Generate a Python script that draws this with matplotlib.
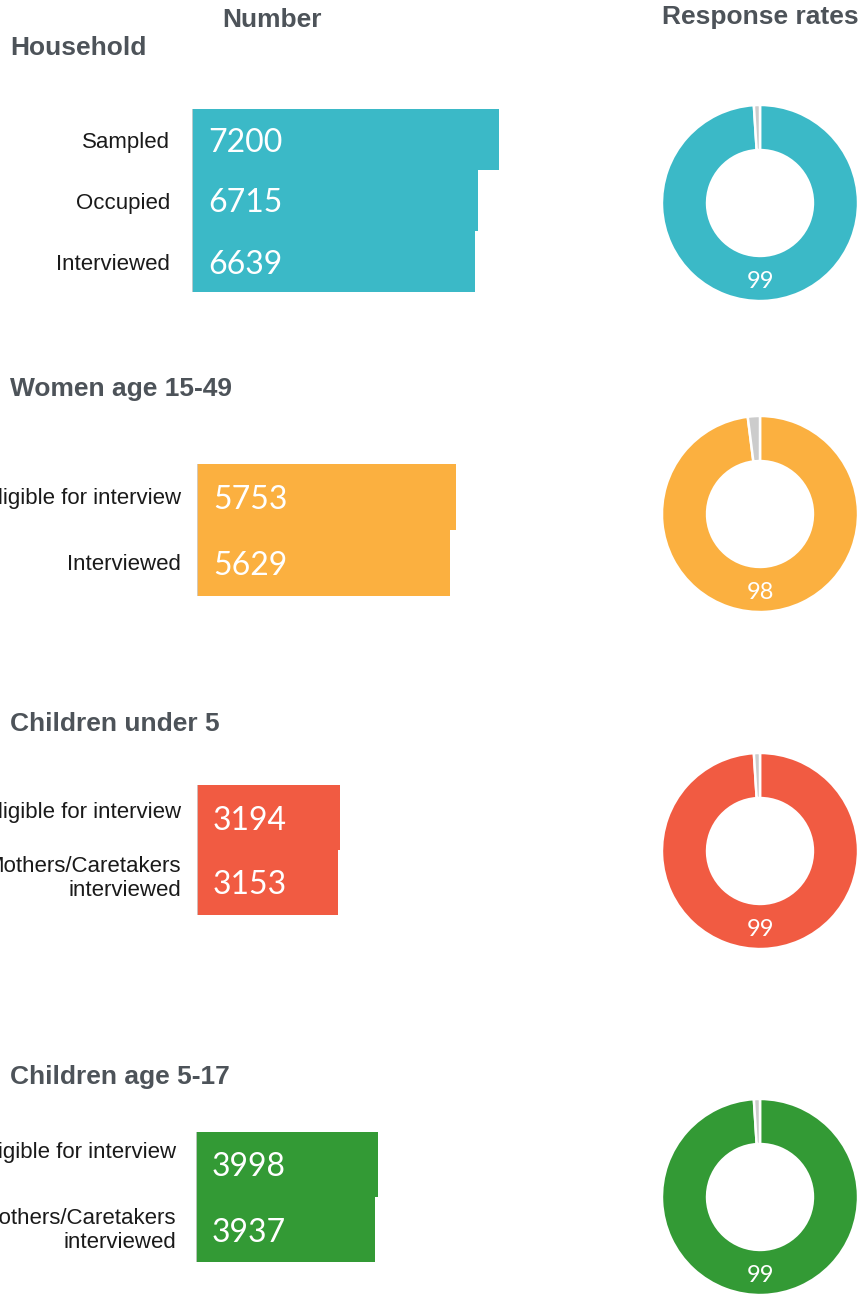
import matplotlib
matplotlib.use("Agg")
import matplotlib.pyplot as plt
import matplotlib.transforms as mtransforms

# ---------------- data ----------------
group_titles = ["Household", "Women age 15-49", "Children under 5", "Children age 5-17"]
household_labels = ["Sampled", "Occupied", "Interviewed"]
household_values = [7200, 6715, 6639]
women_labels = ["Eligible for interview", "Interviewed"]
women_values = [5753, 5629]
child5_labels = ["Eligible for interview", "Mothers/Caretakers\ninterviewed"]
child5_values = [3194, 3153]
child517_labels = ["Eligible for interview", "Mothers/Caretakers\ninterviewed"]
child517_values = [3998, 3937]
response_rates = [99, 98, 99, 99]
colors = ["#3BB9C7", "#FBB040", "#F15B42", "#339A35"]

# ---------------- layout ----------------
W, H = 859, 1308
DPI = 100
fig = plt.figure(figsize=(W / DPI, H / DPI), dpi=DPI)
fig.patch.set_facecolor("white")

TITLE_COLOR = "#4D5359"
LABEL_COLOR = "#1A1A1A"


def box(l, t, w, h):
    return [l / W, 1 - (t + h) / H, w / W, h / H]


def fy(y):
    return 1 - y / H


groups = [
    dict(labels=household_labels, values=household_values, left=192, top=109, bh=61,
         scale=307 / 7200, lab_x=170, lab_off=[-3, -3, -3], title_y=48, donut_cy=203),
    dict(labels=women_labels, values=women_values, left=197, top=464, bh=66,
         scale=259 / 5753, lab_x=181, lab_off=[-2, -1], title_y=389, donut_cy=514),
    dict(labels=child5_labels, values=child5_values, left=197, top=785, bh=65,
         scale=143 / 3194, lab_x=181, lab_off=[5, 4], title_y=724, donut_cy=851),
    dict(labels=child517_labels, values=child517_values, left=196, top=1132, bh=65,
         scale=182 / 3998, lab_x=176, lab_off=[12, -1], title_y=1077, donut_cy=1197),
]

# column headers
fig.text(272 / W, fy(20), "Number", ha="center", va="center", fontsize=19,
         fontweight="bold", family="Liberation Sans", color=TITLE_COLOR)
fig.text(760 / W, fy(17), "Response rates", ha="center", va="center", fontsize=19,
         fontweight="bold", family="Liberation Sans", color=TITLE_COLOR)

for g, title, rate, col in zip(groups, group_titles, response_rates, colors):
    fig.text(10 / W, fy(g["title_y"]), title, ha="left", va="center", fontsize=19,
             fontweight="bold", family="Liberation Sans", color=TITLE_COLOR)

    vals = g["values"]
    n = len(vals)
    vmax = max(vals)
    ax = fig.add_axes(box(g["left"], g["top"], vmax * g["scale"], n * g["bh"]))
    ypos = list(range(n))
    ax.barh(ypos, vals, height=1.0, color=col, edgecolor="none")
    ax.set_xlim(0, vmax)
    ax.set_ylim(n - 0.5, -0.5)
    ax.axis("off")
    ax.axvline(0, color="#CFCFCF", lw=1.2, zorder=3)

    for i, v in enumerate(vals):
        ax.text(0, i, str(v),
                transform=ax.transData + mtransforms.ScaledTranslation(16 / DPI, -3 / DPI, fig.dpi_scale_trans),
                ha="left", va="center", color="white", fontsize=23, family="Lato",
                fontweight="normal")
        # category label
        tr = mtransforms.blended_transform_factory(fig.transFigure, ax.transData)
        tr = tr + mtransforms.ScaledTranslation(0, g["lab_off"][i] / DPI, fig.dpi_scale_trans)
        ax.text(g["lab_x"] / W, i, g["labels"][i], transform=tr, ha="right", va="center",
                multialignment="right", fontsize=16.0, family="Liberation Sans",
                color=LABEL_COLOR, linespacing=1.2, clip_on=False)

    # donut
    dax = fig.add_axes(box(660, g["donut_cy"] - 100, 200, 200))
    dax.pie([rate, 100 - rate], colors=[col, "#CCCCCC"], startangle=90, counterclock=False,
            radius=1.0, wedgeprops=dict(width=0.46, edgecolor="white", linewidth=1.8))
    dax.set_xlim(-1.02, 1.02)
    dax.set_ylim(-1.02, 1.02)
    dax.set_aspect("equal")
    dax.axis("off")
    dax.text(0, -0.80, str(rate), ha="center", va="center", color="white", fontsize=17,
             family="Lato", fontweight="normal")

fig.savefig("out.png", dpi=DPI, facecolor="white")
